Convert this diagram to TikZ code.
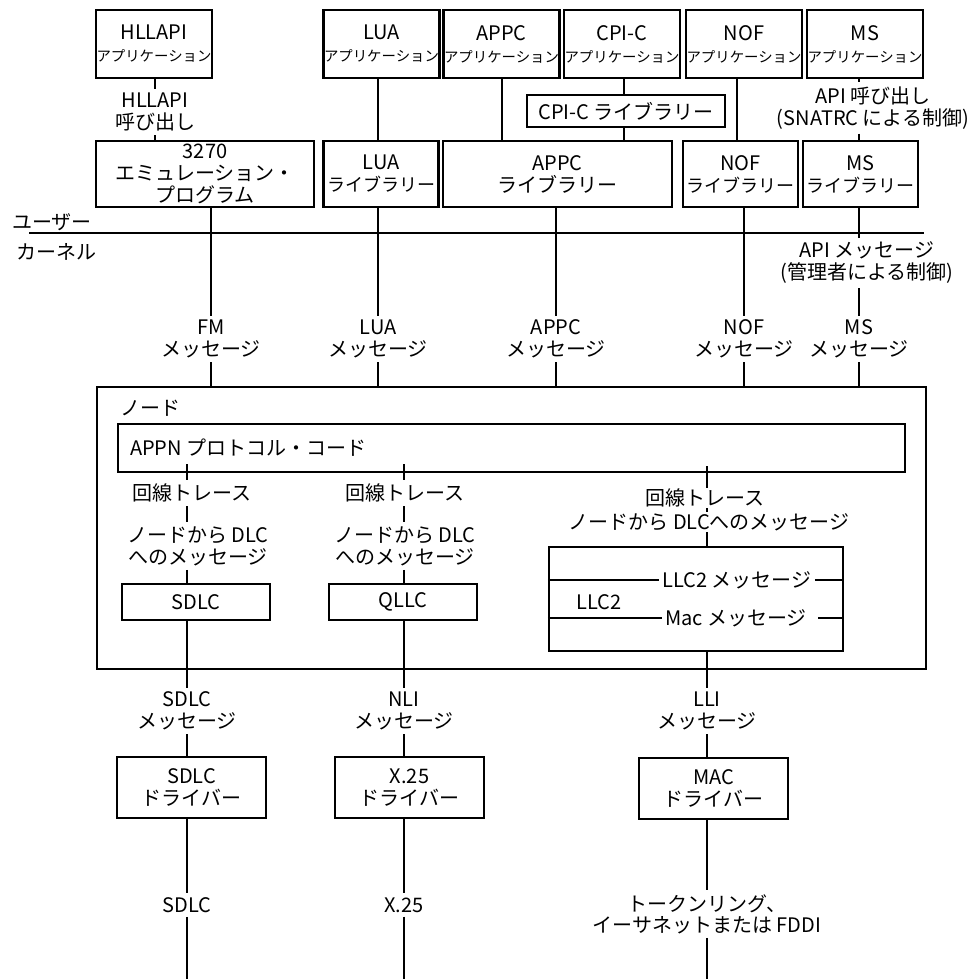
\documentclass[tikz,border=0pt]{standalone}
\usepackage{fontspec}
\setmainfont{Noto Sans CJK JP}
\usetikzlibrary{positioning}
\newcommand{\apsz}{\fontsize{7.2}{8}\selectfont}
\newcommand{\libsz}{\fontsize{9}{10}\selectfont}

\begin{document}
\begin{tikzpicture}[x=0.5pt, y=-0.5pt, line width=1.25pt,
		box/.style={draw, rectangle, inner sep=0pt, align=center,
			font=\fontsize{10}{11}\selectfont},
		app/.style={box, minimum width=58pt, minimum height=34pt},
		lib/.style={box, minimum width=57.5pt, minimum height=33pt},
		dlcbox/.style={box, minimum width=74pt, minimum height=18pt},
		drv/.style={box, minimum width=74.5pt, minimum height=30.5pt},
		lbl/.style={inner sep=1.5pt, align=center, font=\fontsize{10}{11}\selectfont}]
	\useasboundingbox (0,0) rectangle (971,979);
	
	%--- x of the vertical lines ---
	\coordinate (xhll) at (155,0);
	\coordinate (xlua) at (378,0);
	\coordinate (xappc) at (502,0);
	\coordinate (xcpic) at (624,0);
	\coordinate (xnof) at (737,0);
	\coordinate (xms) at (859,0);
	\coordinate (xa) at (187,0);
	\coordinate (xb) at (404,0);
	\coordinate (xc) at (707,0);
	
	%--- applications ---
	\node[app] (hllapiapp) at (154,44) {HLLAPI\\{\apsz アプリケーション}};
	\node[app] (luaapp) at (381.5,44) {LUA\\{\apsz アプリケーション}};
	\node[app] (appcapp) at (501.5,44) {APPC\\{\apsz アプリケーション}};
	\node[app] (cpicapp) at (622,44) {CPI-C\\{\apsz アプリケーション}};
	\node[app] (nofapp) at (744,44) {NOF\\{\apsz アプリケーション}};
	\node[app] (msapp) at (865,44) {MS\\{\apsz アプリケーション}};
	
	%--- libraries ---
	\node[box, minimum width=109pt, minimum height=33pt] (emu) at (205,174)
	{3270\\エミュレーション・\\プログラム};
	\node[lib] (lualib) at (381,174) {LUA\\{\libsz ライブラリー}};
	\node[box, minimum width=114.5pt, minimum height=33pt] (appclib) at (557.5,174)
	{APPC\\ライブラリー};
	\node[lib] (noflib) at (740.5,174) {NOF\\{\libsz ライブラリー}};
	\node[lib] (mslib) at (860.5,174) {MS\\{\libsz ライブラリー}};
	\node[box, minimum width=99pt, minimum height=16pt] (cpiclib) at (626,111)
	{CPI-C ライブラリー};
	
	\node[lbl] (hllapicall) at (155,112) {HLLAPI\\呼び出し};
	\node[lbl] (apicall) at (873,108) {API 呼び出し\\(SNATRC による制御)};
	
	\draw (hllapiapp.south -| xhll) -- (hllapicall) -- (emu.north -| xhll);
	\draw (luaapp.south -| xlua) -- (lualib.north -| xlua);
	\draw (appcapp.south -| xappc) -- (appclib.north -| xappc);
	\draw (cpicapp.south -| xcpic) -- (cpiclib.north -| xcpic);
	\draw (cpiclib.south -| xcpic) -- (appclib.north -| xcpic);
	\draw (nofapp.south -| xnof) -- (noflib.north -| xnof);
	\draw (msapp.south -| xms) -- (apicall.north -| xms);
	\draw (apicall.south -| xms) -- (mslib.north -| xms);
	
	%--- user / kernel ---
	\coordinate (ukw) at (29,233);
	\coordinate (uke) at (924,233);
	\draw (ukw) -- (uke);
	\node[lbl, anchor=west] (userlbl) at (8,222) {ユーザー};
	\node[lbl, anchor=west] (kernlbl) at (12,252) {カーネル};
	
	%--- messages to the node ---
	\node[lbl] (fmmsg) at (211,339) {FM\\メッセージ};
	\node[lbl] (luamsg) at (378,339) {LUA\\メッセージ};
	\node[lbl] (appcmsg) at (556,339) {APPC\\メッセージ};
	\node[lbl] (nofmsg) at (744,339) {NOF\\メッセージ};
	\node[lbl] (msmsg) at (859,339) {MS\\メッセージ};
	\node[lbl] (apimsg) at (867,263) {API メッセージ\\(管理者による制御)};
	
	%--- node ---
	\node[draw, inner sep=0pt, minimum width=414.5pt, minimum height=141pt] (nodebox)
	at (511.5,528) {};
	\node[lbl, anchor=west] (nodelbl) at (116,408) {ノード};
	\node[box, minimum width=393.5pt, minimum height=24pt] (appn) at (511.5,448) {};
	\node[lbl, right=4.5pt of appn.west, anchor=west] (appntxt) {APPN プロトコル・コード};
	
	\draw (emu.south -| fmmsg) -- (fmmsg) -- (nodebox.north -| fmmsg);
	\draw (lualib.south -| luamsg) -- (luamsg) -- (nodebox.north -| luamsg);
	\draw (appclib.south -| appcmsg) -- (appcmsg) -- (nodebox.north -| appcmsg);
	\draw (noflib.south -| nofmsg) -- (nofmsg) -- (nodebox.north -| nofmsg);
	\draw (mslib.south -| xms) -- (apimsg.north -| xms);
	\draw (apimsg.south -| xms) -- (msmsg) -- (nodebox.north -| xms);
	
	\node[lbl] (trace1) at (192,493) {回線トレース};
	\node[lbl] (dlcmsg1) at (198,546) {ノードから DLC\\へのメッセージ};
	\node[dlcbox] (sdlc) at (196,602) {SDLC};
	\node[lbl] (trace2) at (405,493) {回線トレース};
	\node[lbl] (dlcmsg2) at (405,546) {ノードから DLC\\へのメッセージ};
	\node[dlcbox] (qllc) at (403,602) {QLLC};
	
	%--- LLC2 ---
	\node[box, minimum width=147pt, minimum height=52pt] (llc2) at (696,599) {};
	\node[lbl, inner sep=1pt] (llc2msg) at (737,580) {LLC2 メッセージ};
	\node[lbl, inner sep=1pt] (macmsg) at (740,618) {Mac メッセージ\hspace{4pt}};
	\node[lbl, anchor=west] (llc2lbl) at (572,602) {LLC2};
	\draw (llc2.west |- llc2msg) -- (llc2msg.west);
	\draw (llc2msg.east) -- (llc2.east |- llc2msg);
	\draw (llc2.west |- macmsg) -- (macmsg.west);
	\draw (macmsg.east) -- (llc2.east |- macmsg);
	
	\draw ([yshift=4.5pt]appn.south -| xa) -- (trace1.north -| xa);
	\draw (trace1.south -| xa) -- (dlcmsg1.north -| xa);
	\draw (dlcmsg1.south -| xa) -- (sdlc.north -| xa);
	\draw ([yshift=4.5pt]appn.south -| xb) -- (trace2.north -| xb);
	\draw (trace2.south -| xb) -- (dlcmsg2.north -| xb);
	\draw (dlcmsg2.south -| xb) -- (qllc.north -| xb);
	\draw ([yshift=3.5pt]appn.south -| xc) -- (llc2.north -| xc);
	\node[lbl, inner sep=0.5pt, fill=white] (trace3) at (705,498) {回線トレース};
	\node[lbl, inner sep=0.5pt, fill=white] (dlcmsg3) at (709,522) {ノードから DLCへのメッセージ};
	
	%--- below the node ---
	\node[lbl] (sdlcmsg) at (187,711) {SDLC\\メッセージ};
	\node[lbl] (nlimsg) at (404,711) {NLI\\メッセージ};
	\node[lbl] (llimsg) at (707,711) {LLI\\メッセージ};
	\node[drv] (sdlcdrv) at (191.5,787.5) {SDLC\\ドライバー};
	\node[drv] (x25drv) at (409.5,787.5) {X.25\\ドライバー};
	\node[drv] (macdrv) at (713.5,788.5) {MAC\\ドライバー};
	\node[lbl] (sdlclink) at (187,905) {SDLC};
	\node[lbl] (x25link) at (404,905) {X.25};
	\node[lbl, font=\fontsize{10}{10.5}\selectfont] (lanlink) at (707,914)
	{トークンリング、\\イーサネットまたは FDDI};
	\coordinate (enda) at (187,979);
	\coordinate (endb) at (404,979);
	\coordinate (endc) at (707,979);
	
	\draw (sdlc.south -| xa) -- (sdlcmsg) -- (sdlcdrv.north -| xa);
	\draw (sdlcdrv.south -| xa) -- (sdlclink) -- (enda);
	\draw (qllc.south -| xb) -- (nlimsg) -- (x25drv.north -| xb);
	\draw (x25drv.south -| xb) -- (x25link) -- (endb);
	\draw (llc2.south -| xc) -- (llimsg) -- (macdrv.north -| xc);
	\draw (macdrv.south -| xc) -- (lanlink) -- (endc);
\end{tikzpicture}
\end{document}
